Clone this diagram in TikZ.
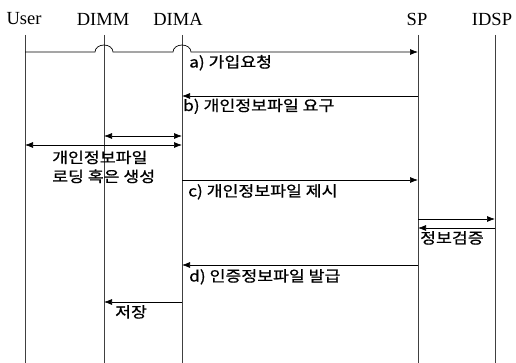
\documentclass[tikz,border=0pt]{standalone}
\usepackage{fontspec}
\setmainfont{Liberation Serif}
\newfontfamily\kr[FakeBold=0.8,FakeStretch=1.15]{Noto Sans CJK KR}
\usetikzlibrary{arrows.meta}
\begin{document}
\begin{tikzpicture}[x=1pt,y=-1pt,
  life/.style={line width=0.6pt,black!75},
  msg/.style={line width=0.7pt,-{Latex[length=8pt,width=6pt]}},
  dmsg/.style={line width=0.7pt,{Latex[length=8pt,width=6pt]}-{Latex[length=8pt,width=6pt]}},
  head/.style={font=\fontsize{18.5}{21}\selectfont,inner sep=0pt},
  lbl/.style={font=\kr\fontsize{15}{19}\selectfont,inner sep=0pt,anchor=base west}]
\useasboundingbox (0,0) rectangle (516,363);
% headers
\node[head] (hU) at (24,19) {User};
\node[head] (hM) at (103,19) {DIMM};
\node[head] (hA) at (178,19) {DIMA};
\node[head] (hS) at (417,19) {SP};
\node[head] (hI) at (492,19) {IDSP};
% lifeline ends
\coordinate (U0) at (25,35); \coordinate (U1) at (25,363);
\coordinate (M0) at (104,35); \coordinate (M1) at (104,363);
\coordinate (A0) at (182,35); \coordinate (A1) at (182,363);
\coordinate (S0) at (418,35); \coordinate (S1) at (418,363);
\coordinate (I0) at (495,35); \coordinate (I1) at (495,363);
\draw[life] (U0) -- (U1);
\draw[life] (M0) -- (M1);
\draw[life] (A0) -- (A1);
\draw[life] (S0) -- (S1);
\draw[life] (I0) -- (I1);
% a) with hops
\coordinate (aU) at (25,52);
\coordinate (aS) at (418,52);
\draw[msg] (aU) -- (95,52) arc[start angle=180,end angle=360,x radius=9,y radius=7] -- (173,52) arc[start angle=180,end angle=360,x radius=9,y radius=7] -- (aS);
\node[lbl] (la) at (189,67.5) {a) 가입요청};
% b)
\coordinate (bS) at (418,96); \coordinate (bA) at (182,96);
\draw[msg] (bS) -- (bA);
\node[lbl] (lb) at (183,111) {b) 개인정보파일 요구};
% double arrows
\coordinate (dM) at (104,136); \coordinate (dA) at (182,136);
\draw[dmsg] (dM) -- (dA);
\coordinate (eU) at (25,145); \coordinate (eA) at (182,145);
\draw[dmsg] (eU) -- (eA);
\node[lbl] (ld1) at (52,163) {개인정보파일};
\node[lbl] (ld2) at (52,182) {로딩 혹은 생성};
% c)
\coordinate (cA) at (182,180); \coordinate (cS) at (418,180);
\draw[msg] (cA) -- (cS);
\node[lbl] (lc) at (188,196.5) {c) 개인정보파일 제시};
% verification
\coordinate (vS) at (418,219); \coordinate (vI) at (495,219);
\draw[msg] (vS) -- (vI);
\coordinate (wI) at (495,228); \coordinate (wS) at (418,228);
\draw[msg] (wI) -- (wS);
\node[lbl] (lv) at (420,243.5) {정보검증};
% d)
\coordinate (dS) at (418,265); \coordinate (dAA) at (182,265);
\draw[msg] (dS) -- (dAA);
\node[lbl] (ldd) at (189,281.5) {d) 인증정보파일 발급};
% store
\coordinate (sA) at (182,302); \coordinate (sM) at (104,302);
\draw[msg] (sA) -- (sM);
\node[lbl] (ls) at (115,317.5) {저장};
\end{tikzpicture}
\end{document}
